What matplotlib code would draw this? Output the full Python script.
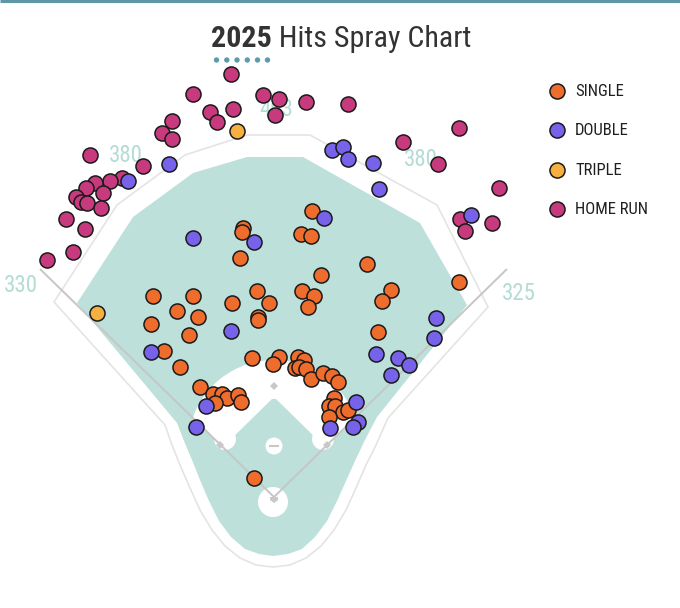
import matplotlib
matplotlib.use("Agg")
import matplotlib.pyplot as plt
from matplotlib.patches import Polygon, Circle
from matplotlib import font_manager

# ---------------- data (spray-chart coordinates, image space) ----------------
singles = [
    (312, 211), (243, 228), (242, 232), (301, 234), (311, 236), (240, 258),
    (367, 264), (321, 275), (459, 282), (391, 290), (382, 301), (302, 291),
    (314, 296), (308, 307), (257, 291), (232, 303), (269, 303), (258, 317),
    (258, 320), (378, 332), (153, 296), (193, 296), (177, 311), (198, 317),
    (151, 324), (189, 335), (164, 351), (180, 367),
    (200, 387), (213, 394), (222, 394), (227, 398), (238, 395), (241, 402),
    (215, 403),
    (252, 358), (279, 357), (273, 364), (298, 357), (304, 360), (295, 368),
    (299, 367), (306, 369), (311, 379), (323, 373), (332, 376), (338, 382),
    (334, 398), (329, 406), (335, 406), (343, 412), (348, 410), (329, 417),
    (254, 478),
]
doubles = [
    (169, 164), (128, 181), (332, 150), (343, 147), (348, 159), (373, 163),
    (379, 189), (471, 215), (324, 218), (193, 238), (254, 242), (231, 331),
    (151, 352), (436, 318), (434, 338), (376, 354), (398, 358), (409, 365),
    (391, 375), (356, 402), (358, 422), (353, 427), (330, 428), (206, 406),
    (196, 427),
]
triples = [(237, 131), (97, 313)]
home_runs = [
    (231, 74), (193, 94), (263, 95), (279, 99), (306, 102), (348, 104),
    (233, 109), (210, 112), (275, 115), (217, 122), (172, 121), (162, 133),
    (172, 139), (459, 128), (403, 142), (90, 155), (143, 166), (438, 164),
    (499, 188), (122, 178), (110, 181), (95, 183), (86, 188), (76, 197),
    (103, 193), (81, 202), (87, 203), (101, 208), (66, 219), (85, 229),
    (73, 252), (47, 260), (460, 219), (465, 231), (492, 223),
]
categories = ["SINGLE", "DOUBLE", "TRIPLE", "HOME RUN"]
colors = ["#EE6D2C", "#7762EA", "#F5B03F", "#C73A7E"]

distance_labels = ["330", "380", "403", "380", "325"]
distance_pos = [(21, 286), (126, 156), (276, 109), (421, 159), (519, 294)]

title_bold = "2025"
title_rest = " Hits Spray Chart"

# ---------------- fonts ----------------
names = {f.name for f in font_manager.fontManager.ttflist}
FONT = "Roboto Condensed" if "Roboto Condensed" in names else "Roboto"
plt.rcParams["font.family"] = [FONT, "DejaVu Sans"]

W, H = 680, 608
fig = plt.figure(figsize=(W / 100, H / 100), dpi=100)
ax = fig.add_axes([0, 0, 1, 1])
ax.set_xlim(0, W)
ax.set_ylim(H, 0)
ax.axis("off")

GRASS = "#BDE0DB"
FENCE = "#E4E4E4"
LINE = "#C6C6C6"

# ---------------- field ----------------
home = (274, 497)
lpole = (40, 269)
rpole = (507, 269)

bottom_curve = [(177, 423), (184, 441), (192, 460), (200, 480), (209, 501),
                (219, 521), (231, 537), (245, 549), (259, 554), (273, 556),
                (288, 554), (302, 549), (315, 537), (327, 521), (337, 501),
                (346, 481), (355, 461), (365, 440), (377, 417)]
top_edge = [(467, 305), (420, 223), (303, 157), (247, 157), (193, 173),
            (133, 217), (77, 303)]
grass = Polygon(bottom_curve + top_edge, closed=True, fc=GRASS, ec="none", zorder=1)
ax.add_patch(grass)

fence_top = [(388, 418), (488, 307), (437, 205), (310, 135), (247, 135),
             (185, 155), (117, 205), (54, 302), (165, 425)]
fence_bottom = [(172, 445), (180, 465), (190, 488), (200, 510), (212, 530),
                (225, 546), (240, 558), (256, 565), (273, 567), (290, 565),
                (306, 558), (321, 546), (334, 530), (346, 510), (356, 488),
                (366, 465), (376, 445)]
fence = Polygon(fence_top + fence_bottom, closed=True, fc="none", ec=FENCE,
                lw=1.2, zorder=2)
ax.add_patch(fence)

# infield dirt (clipped to fair territory)
fair = Polygon([home, (home[0] - 500, home[1] - 500 * 0.975), (274, -400),
                (home[0] + 500, home[1] - 500 * 0.979)], closed=True,
               fc="none", ec="none", transform=ax.transData)
ax.add_patch(fair)
dirt = Circle((274, 446), 86, fc="white", ec="none", zorder=3)
ax.add_patch(dirt)
dirt.set_clip_path(fair)

infield = Polygon([(274, 397), (223, 447), (274, 497), (325, 447)], closed=True,
                  fc=GRASS, ec="none", zorder=4)
ax.add_patch(infield)
for c, r in [((274, 388), 11), ((225, 439), 11), ((323, 439), 11),
             ((274, 446), 8.5), ((273, 502), 15)]:
    ax.add_patch(Circle(c, r, fc="white", ec="none", zorder=5))

# foul lines
ax.plot([lpole[0], home[0], rpole[0]], [lpole[1], home[1], rpole[1]],
        color=LINE, lw=1.4, zorder=6, solid_capstyle="butt")

# bases
for bx, by in [(220, 445), (274, 386), (327, 445)]:
    ax.add_patch(Polygon([(bx, by - 4), (bx + 4, by), (bx, by + 4), (bx - 4, by)],
                         closed=True, fc="#C8C8C8", ec="none", zorder=7))
ax.add_patch(Polygon([(270, 497), (278, 497), (278, 500), (274, 503), (270, 500)],
                     closed=True, fc="#C8C8C8", ec="none", zorder=7))
ax.plot([270, 278], [446, 446], color="#C8C8C8", lw=1.5, zorder=7)

# distance labels
for lab, (tx, ty) in zip(distance_labels, distance_pos):
    ax.text(tx, ty, lab, color="#B5DCD4", fontsize=16.5, ha="center", va="center",
            zorder=8)

# ---------------- hits ----------------
S = 118
LW = 1.1
series = [(home_runs, colors[3]), (singles, colors[0]), (triples, colors[2]),
          (doubles, colors[1])]
for pts, col in series:
    xs = [p[0] for p in pts]
    ys = [p[1] for p in pts]
    ax.scatter(xs, ys, s=S, c=col, edgecolors="#1a1a1a", linewidths=LW, zorder=10)

# ---------------- legend ----------------
leg_y = [91, 130, 170, 209]
for lab, col, ly in zip(categories, colors, leg_y):
    ax.scatter([557], [ly], s=S, c=col, edgecolors="#1a1a1a", linewidths=LW,
               zorder=10)
    ax.text(575, ly + 0.5, lab, fontsize=12, color="#1f1f1f", ha="left",
            va="center", zorder=10)

# ---------------- title ----------------
ax.plot([0, W], [1, 1], color="#5F97A6", lw=2.2, zorder=11, solid_capstyle="butt")
dots_x = [216.5, 226.8, 237, 247.3, 257.5, 267.5]
ax.scatter(dots_x, [60] * 6, s=15, c="#5C9BAC", edgecolors="none", zorder=11)

fs = 21.6 if FONT == "Roboto Condensed" else 19.0
t1 = ax.text(211, 47, title_bold, fontsize=fs, fontweight="bold", color="#333333",
             ha="left", va="baseline", zorder=11)
fig.canvas.draw()
r = fig.canvas.get_renderer()
bb = t1.get_window_extent(r)
x1 = ax.transData.inverted().transform((bb.x1, bb.y0))[0]
ax.text(x1, 47, title_rest, fontsize=fs, color="#333333", ha="left",
        va="baseline", zorder=11)

fig.savefig("out.png", dpi=100)
